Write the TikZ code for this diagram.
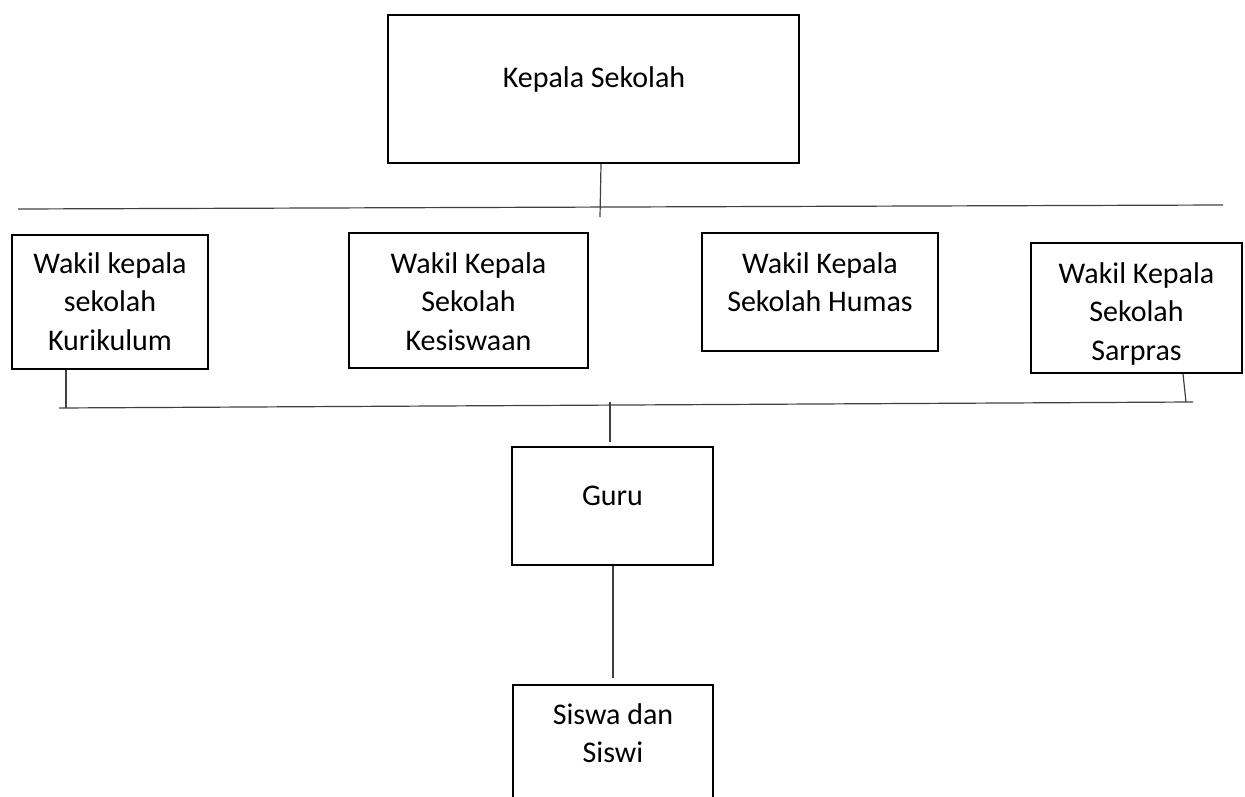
\documentclass[tikz,border=0pt]{standalone}
\usepackage{fontspec}
\setmainfont{Carlito}
\begin{document}
\begin{tikzpicture}[x=1pt,y=-1pt,
  box/.style={draw=black,line width=2pt,inner sep=0pt},
  txt/.style={font=\fontsize{30}{38.5}\selectfont,text width=260pt,align=flush center,anchor=base,inner sep=0pt},
  conn/.style={draw=black!75,line width=1.2pt}]
\useasboundingbox (0,0) rectangle (1245,797);
\clip (0,0) rectangle (1245,797);
% boxes
\node[box,minimum width=411pt,minimum height=148pt] (kepala) at (593.5,89) {};
\node[box,minimum width=196pt,minimum height=134pt] (kur) at (110,302) {};
\node[box,minimum width=239pt,minimum height=135pt] (kes) at (468.5,300.5) {};
\node[box,minimum width=236pt,minimum height=118pt] (hum) at (820,292) {};
\node[box,minimum width=211pt,minimum height=130pt] (sar) at (1136.5,308) {};
\node[box,minimum width=201pt,minimum height=118pt] (guru) at (612.5,506) {};
\node[box,minimum width=200pt,minimum height=160pt] (siswa) at (613,765) {};
% texts
\node[txt] (tkepala) at (594,88) {Kepala Sekolah};
\node[txt] (tkur) at (110,273) {Wakil kepala\\sekolah\\Kurikulum};
\node[txt] (tkes) at (468.5,273) {Wakil Kepala\\Sekolah\\Kesiswaan};
\node[txt] (thum) at (820,273) {Wakil Kepala\\Sekolah Humas};
\node[txt] (tsar) at (1136.5,283) {Wakil Kepala\\Sekolah\\Sarpras};
\node[txt] (tguru) at (612.5,505) {Guru};
\node[txt] (tsiswa) at (613,724) {Siswa dan\\Siswi};
% junction coordinates
\coordinate (kdown) at (600,217);
\coordinate (topL) at (18,209);
\coordinate (topR) at (1223,205);
\coordinate (kurdown) at (66,408);
\coordinate (sardown) at (1186,402);
\coordinate (botL) at (59,408);
\coordinate (botR) at (1193,402);
\coordinate (gurutop) at (610,402);
\coordinate (guruup) at (610,442);
\coordinate (siswaup) at (613,678);
% connectors
\draw[conn] (kepala.south -| 601,0) -- (kdown);
\draw[conn] (topL) -- (topR);
\draw[conn] (kur.south -| kurdown) -- (kurdown);
\draw[conn] (sar.south -| 1183,0) -- (sardown);
\draw[conn] (botL) -- (botR);
\draw[conn] (gurutop) -- (guruup);
\draw[conn] (guru.south -| siswaup) -- (siswaup);
\end{tikzpicture}
\end{document}
